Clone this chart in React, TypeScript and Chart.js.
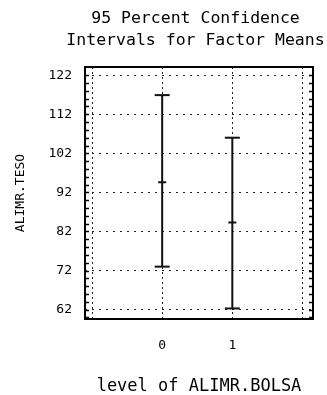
import React, { useEffect, useRef } from "react";
import { Chart, registerables } from "chart.js";

Chart.register(...registerables);

const titleLines = ["95 Percent Confidence", "Intervals for Factor Means"];
const xAxisTitle = "level of ALIMR.BOLSA";
const yAxisTitle = "ALIMR.TESO";
const levels = [0, 1];
const lowers = [73.0, 62.3];
const means = [94.6, 84.3];
const uppers = [116.9, 106.0];
const yTicks = [62, 72, 82, 92, 102, 112, 122];
const yMinorTicks = [
  60, 64, 66, 68, 70, 74, 76, 78, 80, 84, 86, 88, 90, 94, 96, 98, 100, 104, 106, 108, 110, 114, 116,
  118, 120, 124,
];
const xGridTicks = [-1, 0, 1, 2];
const xLabelTicks = [0, 1];

const MONO = "'DejaVu Sans Mono', 'Liberation Mono', monospace";

const titleShift = {
  id: "titleShift",
  afterLayout(chart: any) {
    const tb = chart.titleBlock;
    if (tb) {
      tb.left = 64;
      tb.right = 327;
      tb.width = 263;
    }
  },
};

const frame = {
  id: "frame",
  afterDraw(chart: any) {
    const { ctx, chartArea } = chart;
    const y = chart.scales.y;
    ctx.save();
    ctx.strokeStyle = "#000";
    ctx.lineWidth = 1.5;
    ctx.beginPath();
    for (const v of yMinorTicks.concat(yTicks)) {
      const py = Math.round(y.getPixelForValue(v)) + 0.5;
      if (py <= chartArea.top + 1 || py >= chartArea.bottom - 1) continue;
      ctx.moveTo(chartArea.left, py);
      ctx.lineTo(chartArea.left + 4, py);
      ctx.moveTo(chartArea.right, py);
      ctx.lineTo(chartArea.right - 4, py);
    }
    ctx.stroke();
    ctx.lineWidth = 2;
    ctx.strokeRect(chartArea.left, chartArea.top, chartArea.right - chartArea.left, chartArea.bottom - chartArea.top);
    ctx.restore();
  },
};

export default function App() {
  const ref = useRef<HTMLCanvasElement | null>(null);
  useEffect(() => {
    document.body.style.margin = "0";
    const datasets = levels.map((lv, i) => ({
      data: [
        { x: lv, y: lowers[i] },
        { x: lv, y: means[i] },
        { x: lv, y: uppers[i] },
      ],
      showLine: true,
      borderColor: "#111",
      borderWidth: 2,
      pointStyle: "line",
      pointRadius: [7.5, 4, 7.5],
      pointHoverRadius: [7.5, 4, 7.5],
      pointBorderWidth: 2,
      pointBorderColor: "#111",
      pointBackgroundColor: "#111",
    }));
    const chart = new Chart(ref.current!, {
      type: "scatter",
      data: { datasets: datasets as any },
      plugins: [titleShift, frame],
      options: {
        animation: false,
        responsive: false,
        events: [],
        layout: { padding: { left: 0, right: 14, top: 0, bottom: 0 }, autoPadding: false },
        plugins: {
          legend: { display: false },
          tooltip: { enabled: false },
          title: {
            display: true,
            text: titleLines,
            color: "#000",
            font: { family: MONO, size: 16.5, weight: "normal", lineHeight: 1.33 },
            padding: { top: 8, bottom: 15.1 },
          },
        },
        scales: {
          x: {
            type: "linear",
            min: -1.1,
            max: 2.15,
            afterBuildTicks: (s: any) => {
              s.ticks = xGridTicks.map((v) => ({ value: v }));
            },
            afterFit: (s: any) => {
              s.height = 76;
            },
            ticks: {
              color: "#000",
              font: { family: MONO, size: 13 },
              padding: 19,
              maxRotation: 0,
              autoSkip: false,
              callback: (v: any) => (xLabelTicks.includes(Number(v)) ? String(v) : ""),
            },
            grid: {
              color: "#222",
              lineWidth: 1,
              drawTicks: false,
            },
            border: { display: false, dash: [2, 3] },
            title: {
              display: true,
              text: xAxisTitle,
              color: "#000",
              font: { family: MONO, size: 17, weight: "normal" },
              padding: { top: 0, bottom: -1.5 },
            },
          },
          y: {
            type: "linear",
            min: 59.6,
            max: 124.1,
            afterBuildTicks: (s: any) => {
              s.ticks = yTicks.map((v) => ({ value: v }));
            },
            afterFit: (s: any) => {
              s.width = 85;
            },
            ticks: {
              color: "#000",
              font: { family: MONO, size: 13 },
              padding: 13,
              autoSkip: false,
            },
            grid: {
              color: "#222",
              lineWidth: 1,
              drawTicks: false,
            },
            border: { display: false, dash: [2, 5] },
            title: {
              display: true,
              text: yAxisTitle,
              color: "#000",
              font: { family: MONO, size: 13, weight: "normal" },
              padding: { top: 13, bottom: 0 },
            },
          },
        },
      } as any,
    });
    return () => chart.destroy();
  }, []);
  return (
    <div style={{ width: 327, height: 395 }}>
      <canvas ref={ref} width={327} height={395} style={{ display: "block" }} />
    </div>
  );
}
